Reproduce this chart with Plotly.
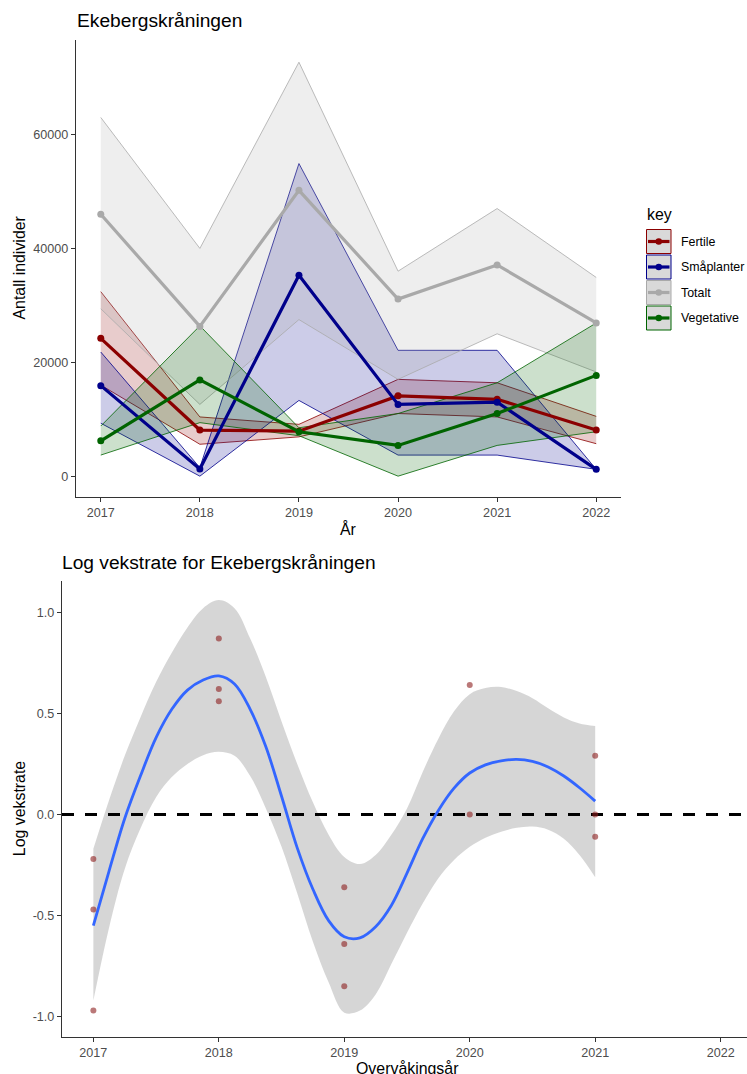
import plotly.graph_objects as go

W, H = 747, 1074
FONT = "Liberation Sans, Arial, sans-serif"

# ---- Antall individer per år (mean with lower / upper bound) ----
years = [2017, 2018, 2019, 2020, 2021, 2022]
keys = ["Fertile", "Småplanter", "Totalt", "Vegetative"]

fertile_mean = [24200, 8100, 7900, 14100, 13500, 8100]
fertile_lo = [16000, 5600, 6900, 11000, 10400, 5700]
fertile_hi = [32400, 10400, 9100, 17000, 16400, 10500]

smaplanter_mean = [15900, 1250, 35300, 12600, 13000, 1200]
smaplanter_lo = [9300, 0, 13300, 3700, 3700, 1200]
smaplanter_hi = [21800, 1500, 54900, 22100, 22100, 1200]

totalt_mean = [46000, 26300, 50200, 31100, 37100, 26900]
totalt_lo = [29400, 12600, 27500, 17000, 25000, 18300]
totalt_hi = [63000, 40000, 72700, 36000, 47000, 34900]

vegetative_mean = [6200, 16900, 7800, 5400, 11000, 17700]
vegetative_lo = [3700, 9400, 7100, 0, 5400, 7800]
vegetative_hi = [8800, 26400, 8500, 11000, 16400, 26900]

top_x_ticks = [2017, 2018, 2019, 2020, 2021, 2022]
top_y_ticks = [0, 20000, 40000, 60000]

# ---- Log vekstrate ----
growth_year = [2017, 2017, 2017, 2018, 2018, 2018, 2019, 2019, 2019,
               2020, 2020, 2021, 2021, 2021]
growth_value = [-0.22, -0.47, -0.97, 0.87, 0.62, 0.56, -0.36, -0.64, -0.85,
                0.64, 0.0, 0.29, 0.0, -0.11]

# loess fit with its confidence band, read every 1/8 year
smooth_year = [2017.0, 2017.125, 2017.25, 2017.375, 2017.5, 2017.625, 2017.75, 2017.875,
               2018.0, 2018.125, 2018.25, 2018.375, 2018.5, 2018.625, 2018.75, 2018.875,
               2019.0, 2019.125, 2019.25, 2019.375, 2019.5, 2019.625, 2019.75, 2019.875,
               2020.0, 2020.125, 2020.25, 2020.375, 2020.5, 2020.625, 2020.75, 2020.875,
               2021.0]
smooth_fit = [-0.55, -0.28, -0.02, 0.19, 0.38, 0.52, 0.615, 0.665,
              0.685, 0.645, 0.52, 0.335, 0.09, -0.165, -0.37, -0.525,
              -0.605, -0.61, -0.555, -0.45, -0.29, -0.12, 0.02, 0.13,
              0.205, 0.245, 0.265, 0.272, 0.262, 0.235, 0.19, 0.132,
              0.066]
smooth_upper = [-0.17, 0.07, 0.29, 0.48, 0.655, 0.80, 0.925, 1.02,
                1.06, 1.02, 0.87, 0.68, 0.46, 0.25, 0.06, -0.10,
                -0.21, -0.245, -0.2, -0.1, 0.03, 0.21, 0.375, 0.51,
                0.595, 0.625, 0.63, 0.61, 0.575, 0.525, 0.48, 0.45,
                0.437]
smooth_lower = [-0.92, -0.56, -0.27, -0.07, 0.085, 0.185, 0.25, 0.293,
                0.31, 0.29, 0.19, 0.03, -0.16, -0.39, -0.63, -0.83,
                -0.98, -0.97, -0.89, -0.74, -0.585, -0.44, -0.315, -0.225,
                -0.16, -0.115, -0.085, -0.066, -0.06, -0.075, -0.12, -0.2,
                -0.31]

bottom_x_ticks = [2017, 2018, 2019, 2020, 2021, 2022]
bottom_y_ticks = [-1.0, -0.5, 0.0, 0.5, 1.0]
bottom_y_ticklabels = ["-1.0", "-0.5", "0.0", "0.5", "1.0"]
bottom_x_range = [2016.75, 2022.21]

series = {
    "Fertile": (fertile_mean, fertile_lo, fertile_hi),
    "Småplanter": (smaplanter_mean, smaplanter_lo, smaplanter_hi),
    "Totalt": (totalt_mean, totalt_lo, totalt_hi),
    "Vegetative": (vegetative_mean, vegetative_lo, vegetative_hi),
}
line_color = {"Fertile": "#8B0000", "Småplanter": "#00008B",
              "Totalt": "#A9A9A9", "Vegetative": "#006400"}
band_fill = {"Fertile": "rgba(139,0,0,0.2)", "Småplanter": "rgba(0,0,139,0.2)",
             "Totalt": "rgba(169,169,169,0.2)", "Vegetative": "rgba(0,100,0,0.2)"}

TITLE_SIZE = 19.2
AXIS_TITLE_SIZE = 15.9
TICK_SIZE = 12.6
LEGEND_SIZE = 12.4


def px(x):
    return x / W


def py(y):
    return 1 - y / H


fig = go.Figure()

# ribbons
for k in keys:
    mean, lo, hi = series[k]
    fig.add_trace(go.Scatter(x=years, y=lo, mode="lines",
                             line=dict(color=line_color[k], width=0.8),
                             xaxis="x", yaxis="y", showlegend=False, hoverinfo="skip"))
    fig.add_trace(go.Scatter(x=years, y=hi, mode="lines", fill="tonexty",
                             fillcolor=band_fill[k],
                             line=dict(color=line_color[k], width=0.8),
                             xaxis="x", yaxis="y", showlegend=False, hoverinfo="skip"))
# mean lines with points
for k in keys:
    mean, lo, hi = series[k]
    fig.add_trace(go.Scatter(x=years, y=mean, mode="lines+markers", name=k,
                             line=dict(color=line_color[k], width=3.2),
                             marker=dict(color=line_color[k], size=7),
                             xaxis="x", yaxis="y", showlegend=False))

# smooth band
fig.add_trace(go.Scatter(x=smooth_year, y=smooth_lower, mode="lines",
                         line=dict(width=0, shape="spline", smoothing=1.0,
                                   color="rgba(0,0,0,0)"),
                         xaxis="x2", yaxis="y2", showlegend=False, hoverinfo="skip"))
fig.add_trace(go.Scatter(x=smooth_year, y=smooth_upper, mode="lines", fill="tonexty",
                         fillcolor="rgba(153,153,153,0.4)",
                         line=dict(width=0, shape="spline", smoothing=1.0,
                                   color="rgba(0,0,0,0)"),
                         xaxis="x2", yaxis="y2", showlegend=False, hoverinfo="skip"))
# zero reference line across the panel
fig.add_trace(go.Scatter(x=bottom_x_range, y=[0, 0], mode="lines",
                         line=dict(color="black", width=3, dash="12px,11px"),
                         xaxis="x2", yaxis="y2", showlegend=False, hoverinfo="skip"))
# smooth fit
fig.add_trace(go.Scatter(x=smooth_year, y=smooth_fit, mode="lines",
                         line=dict(color="#3366FF", width=2.8, shape="spline",
                                   smoothing=1.0),
                         xaxis="x2", yaxis="y2", showlegend=False))
# observed growth rates
fig.add_trace(go.Scatter(x=growth_year, y=growth_value, mode="markers",
                         marker=dict(color="rgba(140,30,30,0.6)", size=6),
                         xaxis="x2", yaxis="y2", showlegend=False))

axis_common = dict(showgrid=False, zeroline=False, showline=True,
                   linecolor="#333333", linewidth=1.2, ticks="outside",
                   ticklen=4, tickwidth=1, tickcolor="#333333",
                   tickfont=dict(family=FONT, size=TICK_SIZE, color="#4D4D4D"))

fig.update_layout(
    width=W, height=H,
    margin=dict(l=0, r=0, t=0, b=0),
    paper_bgcolor="white", plot_bgcolor="white",
    font=dict(family=FONT),
    xaxis=dict(domain=[px(76), px(621)], anchor="y", range=[2016.75, 2022.25],
               tickvals=top_x_ticks, **axis_common),
    yaxis=dict(domain=[py(497), py(40)], anchor="x", range=[-3660, 76600],
               tickvals=top_y_ticks, ticktext=[str(v) for v in top_y_ticks],
               **axis_common),
    xaxis2=dict(domain=[px(62), 1.0], anchor="y2", range=bottom_x_range,
                tickvals=bottom_x_ticks, **axis_common),
    yaxis2=dict(domain=[py(1036.7), py(580.7)], anchor="x2", range=[-1.099, 1.156],
                tickvals=bottom_y_ticks, ticktext=bottom_y_ticklabels, **axis_common),
)

annotations = [
    dict(text="Ekebergskråningen", x=px(75), y=py(21), xanchor="left", yanchor="middle",
         font=dict(size=TITLE_SIZE, color="black")),
    dict(text="Antall individer", x=px(19.5), y=py(268), textangle=-90,
         xanchor="center", yanchor="middle", font=dict(size=AXIS_TITLE_SIZE, color="black")),
    dict(text="År", x=px(348), y=py(529), xanchor="center", yanchor="middle",
         font=dict(size=AXIS_TITLE_SIZE, color="black")),
    dict(text="Log vekstrate for Ekebergskråningen", x=px(60), y=py(562),
         xanchor="left", yanchor="middle", font=dict(size=TITLE_SIZE, color="black")),
    dict(text="Log vekstrate", x=px(19.5), y=py(808.7), textangle=-90,
         xanchor="center", yanchor="middle", font=dict(size=AXIS_TITLE_SIZE, color="black")),
    dict(text="Overvåkingsår", x=px(407), y=py(1068), xanchor="center", yanchor="middle",
         font=dict(size=AXIS_TITLE_SIZE, color="black")),
    dict(text="key", x=px(645), y=py(214), xanchor="left", yanchor="middle",
         font=dict(size=AXIS_TITLE_SIZE, color="black")),
]

# legend keys
shapes = []
key_top = 229.5
key_step = 25.5
key_h = 24
for i, k in enumerate(keys):
    y0 = key_top + i * key_step
    yc = y0 + key_h / 2
    shapes.append(dict(type="rect", xref="paper", yref="paper",
                       x0=px(646.5), x1=px(671), y0=py(y0 + key_h), y1=py(y0),
                       fillcolor="#D9D9D9", line=dict(color=line_color[k], width=1)))
    shapes.append(dict(type="line", xref="paper", yref="paper",
                       x0=px(648), x1=px(669.5), y0=py(yc), y1=py(yc),
                       line=dict(color=line_color[k], width=3.2)))
    shapes.append(dict(type="circle", xref="paper", yref="paper",
                       x0=px(655.5), x1=px(662), y0=py(yc + 3.25), y1=py(yc - 3.25),
                       fillcolor=line_color[k], line=dict(width=0)))
    annotations.append(dict(text=k, x=px(679), y=py(yc), xanchor="left", yanchor="middle",
                            font=dict(size=LEGEND_SIZE, color="black")))

for a in annotations:
    a.update(xref="paper", yref="paper", showarrow=False)
    a["font"]["family"] = FONT

fig.update_layout(annotations=annotations, shapes=shapes)

fig.write_html("out.html")
